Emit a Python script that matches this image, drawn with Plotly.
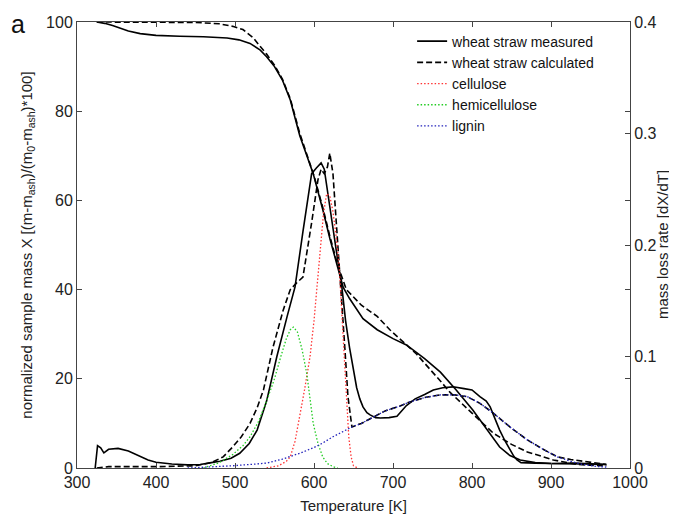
import plotly.graph_objects as go

# ---------------- data ----------------
# mass curves (left axis, %)
T_mass_meas = [325, 335, 345, 355, 365, 380, 400, 430, 460, 490, 505, 519, 532, 540, 550, 560, 570, 582, 590, 599,
               611, 620, 630, 637, 645, 662, 680, 700, 717, 740, 760, 780, 801, 820, 835, 848, 861, 880, 900, 950, 970]
X_mass_meas = [100, 99.7, 99.2, 98.6, 98.0, 97.4, 97.0, 96.8, 96.7, 96.4, 96.0, 95.2, 93.7, 92.2, 90.0, 87.0, 82.5,
               74.5, 70.5, 66.0, 58.0, 51.5, 45.0, 40.5, 38.0, 33.5, 31.0, 29.0, 27.6, 24.5, 21.5, 17.5, 13.0, 8.5,
               4.7, 2.8, 1.8, 1.2, 1.0, 0.9, 0.8]

T_mass_calc = [325, 400, 450, 480, 498, 510, 523, 532, 540, 550, 560, 570, 582, 590, 600, 611, 620, 630, 641, 660,
               680, 696, 730, 760, 772, 800, 827, 850, 870, 903, 930, 950, 970]
X_mass_calc = [100, 100, 99.9, 99.6, 99.0, 98.3, 96.5, 94.5, 92.8, 90.3, 87.2, 82.8, 75.0, 70.8, 65.5, 58.5, 52.0,
               45.5, 40.0, 36.5, 34.0, 31.0, 25.5, 19.5, 17.0, 12.3, 7.8, 5.3, 3.6, 1.8, 0.9, 0.6, 0.5]

# mass loss rate curves (right axis, dX/dT)
T_dtg_meas = [323, 326, 330, 334, 340, 352, 365, 377, 390, 400, 420, 440, 456, 470, 481, 495, 506, 518, 528, 540,
              553, 566, 576, 586, 597, 603, 609, 613, 617, 622, 628, 635, 640, 645, 650, 654, 658, 662, 667, 671,
              678, 684, 695, 705, 717, 728, 740, 751, 763, 776, 790, 800, 810, 818, 823, 829, 835, 842, 848, 853,
              857, 862, 880, 900, 930, 950, 970]
R_dtg_meas = [0.0, 0.020, 0.018, 0.0136, 0.0168, 0.0176, 0.0152, 0.0112, 0.0072, 0.0052, 0.0036, 0.0028, 0.0032,
              0.0048, 0.0060, 0.0088, 0.0132, 0.0220, 0.0340, 0.0600, 0.1000, 0.1360, 0.1624, 0.2120, 0.2640,
              0.2690, 0.2736, 0.2680, 0.2480, 0.2240, 0.1960, 0.1640, 0.1320, 0.1080, 0.0880, 0.0720, 0.0620,
              0.0548, 0.0496, 0.0476, 0.0452, 0.0448, 0.0452, 0.0464, 0.0560, 0.0620, 0.0660, 0.0700, 0.0720,
              0.0728, 0.0712, 0.0700, 0.0640, 0.0600, 0.0548, 0.0440, 0.0340, 0.0240, 0.0160, 0.0104, 0.0072,
              0.0048, 0.0044, 0.0040, 0.0044, 0.0040, 0.0032]

T_dtg_calc = [325, 340, 400, 450, 470, 485, 497, 508, 519, 528, 536, 548, 561, 570, 578, 586, 597, 605, 609, 613,
              617, 620, 624, 628, 633, 639, 643, 648, 660, 675, 690, 709, 718, 740, 760, 778, 794, 810, 827, 848,
              870, 890, 908, 925, 937, 950, 970]
R_dtg_calc = [0.0, 0.0012, 0.0012, 0.0020, 0.0048, 0.0100, 0.0188, 0.0280, 0.0400, 0.0540, 0.0700, 0.1080, 0.1416,
              0.1600, 0.1660, 0.1712, 0.2200, 0.2584, 0.2680, 0.2640, 0.2700, 0.2824, 0.2640, 0.2240, 0.1760,
              0.1080, 0.0640, 0.0368, 0.0400, 0.0456, 0.0512, 0.0556, 0.0584, 0.0632, 0.0656, 0.0656, 0.0640,
              0.0580, 0.0492, 0.0368, 0.0252, 0.0168, 0.0100, 0.0076, 0.0064, 0.0048, 0.0032]

# components (right axis, dX/dT)
T_cell = [540, 555, 565, 570, 576, 582, 588, 595, 600, 604, 608, 612, 616, 620, 624, 628, 632, 635, 638, 641, 644,
          647, 650, 655]
R_cell = [0.0, 0.0020, 0.0060, 0.0100, 0.0240, 0.0456, 0.0700, 0.1000, 0.1320, 0.1640, 0.2000, 0.2280, 0.2460,
          0.2440, 0.2300, 0.2080, 0.1800, 0.1400, 0.0960, 0.0560, 0.0280, 0.0100, 0.0020, 0.0]

T_hemi = [460, 480, 497, 510, 519, 530, 540, 550, 558, 565, 570, 574, 579, 585, 591, 595, 599, 605, 611, 617, 624, 630]
R_hemi = [0.0, 0.0048, 0.0120, 0.0200, 0.0280, 0.0420, 0.0600, 0.0800, 0.1000, 0.1160, 0.1240, 0.1264, 0.1220,
          0.1060, 0.0840, 0.0620, 0.0400, 0.0220, 0.0100, 0.0040, 0.0012, 0.0]

T_lig = [440, 470, 497, 520, 540, 560, 582, 600, 610, 624, 641, 648, 660, 675, 690, 709, 718, 740, 760, 778, 794,
         810, 827, 848, 870, 890, 908, 925, 940, 955, 970]
R_lig = [0.0, 0.0008, 0.0020, 0.0032, 0.0044, 0.0080, 0.0132, 0.0184, 0.0220, 0.0280, 0.0340, 0.0368, 0.0400,
         0.0456, 0.0512, 0.0556, 0.0584, 0.0632, 0.0656, 0.0656, 0.0640, 0.0580, 0.0492, 0.0368, 0.0252, 0.0168,
         0.0100, 0.0060, 0.0032, 0.0016, 0.0008]

x_ticks = [300, 400, 500, 600, 700, 800, 900, 1000]
y_ticks = [0, 20, 40, 60, 80, 100]
y2_ticks = [0, 0.1, 0.2, 0.3, 0.4]

# ---------------- figure ----------------
FONT = "Liberation Sans, Arial, sans-serif"
fig = go.Figure()

solid = dict(color="black", width=1.6)
dashed = dict(color="black", width=1.6, dash="6px,3px")
dotted = "1.5px,2px"

fig.add_trace(go.Scatter(x=T_mass_meas, y=X_mass_meas, mode="lines", line=solid,
                         name="wheat straw measured", legendgroup="m", showlegend=True))
fig.add_trace(go.Scatter(x=T_dtg_meas, y=R_dtg_meas, mode="lines", line=solid, yaxis="y2",
                         name="wheat straw measured", legendgroup="m", showlegend=False))
fig.add_trace(go.Scatter(x=T_mass_calc, y=X_mass_calc, mode="lines", line=dashed,
                         name="wheat straw calculated", legendgroup="c", showlegend=True))
fig.add_trace(go.Scatter(x=T_dtg_calc, y=R_dtg_calc, mode="lines", line=dashed, yaxis="y2",
                         name="wheat straw calculated", legendgroup="c", showlegend=False))
fig.add_trace(go.Scatter(x=T_cell, y=R_cell, mode="lines", yaxis="y2", name="cellulose",
                         line=dict(color="#ff3333", width=1.3, dash=dotted)))
fig.add_trace(go.Scatter(x=T_hemi, y=R_hemi, mode="lines", yaxis="y2", name="hemicellulose",
                         line=dict(color="#22cc22", width=1.3, dash=dotted)))
fig.add_trace(go.Scatter(x=T_lig, y=R_lig, mode="lines", yaxis="y2", name="lignin",
                         line=dict(color="#2222bb", width=1.3, dash=dotted)))

axis_common = dict(showgrid=False, zeroline=False, showline=True, linecolor="#444", linewidth=1,
                   ticks="inside", ticklen=5, tickcolor="#444", automargin=False,
                   tickfont=dict(family=FONT, size=16, color="#222"))

# the page body has an 8px margin, so the figure is shifted by 8px; sizes compensate
fig.update_layout(
    width=669, height=509,
    margin=dict(l=69, r=47, t=14, b=49, autoexpand=False),
    paper_bgcolor="white", plot_bgcolor="white",
    font=dict(family=FONT, color="#222"),
    showlegend=True,
    legend=dict(x=0.606, y=0.992, xanchor="left", yanchor="top", bgcolor="rgba(0,0,0,0)",
                font=dict(family=FONT, size=14, color="#111"), tracegroupgap=0),
    xaxis=dict(range=[300, 1000], tickvals=x_ticks, mirror="ticks",
               title=dict(text="Temperature [K]", font=dict(family=FONT, size=15), standoff=10),
               **axis_common),
    yaxis=dict(range=[0, 100], tickvals=y_ticks, mirror="ticks",
               title=dict(text="normalized sample mass X [(m-m<sub>ash</sub>)/(m<sub>0</sub>-m<sub>ash</sub>)*100]",
                          font=dict(family=FONT, size=15), standoff=9),
               **axis_common),
    yaxis2=dict(range=[0, 0.4], tickvals=y2_ticks, overlaying="y", side="right",
                tickformat=".1~f", **axis_common),
    annotations=[
        dict(text="a", x=-0.1067, y=0.9955, xref="paper", yref="paper", showarrow=False,
             xanchor="center", yanchor="middle", font=dict(family=FONT, size=25, color="#111")),
        dict(text="mass loss rate [dX/dT]", x=1.058, y=0.5, xref="paper", yref="paper", showarrow=False,
             xanchor="center", yanchor="middle", textangle=-90,
             font=dict(family=FONT, size=15, color="#222")),
    ],
)

fig.write_html("out.html")
